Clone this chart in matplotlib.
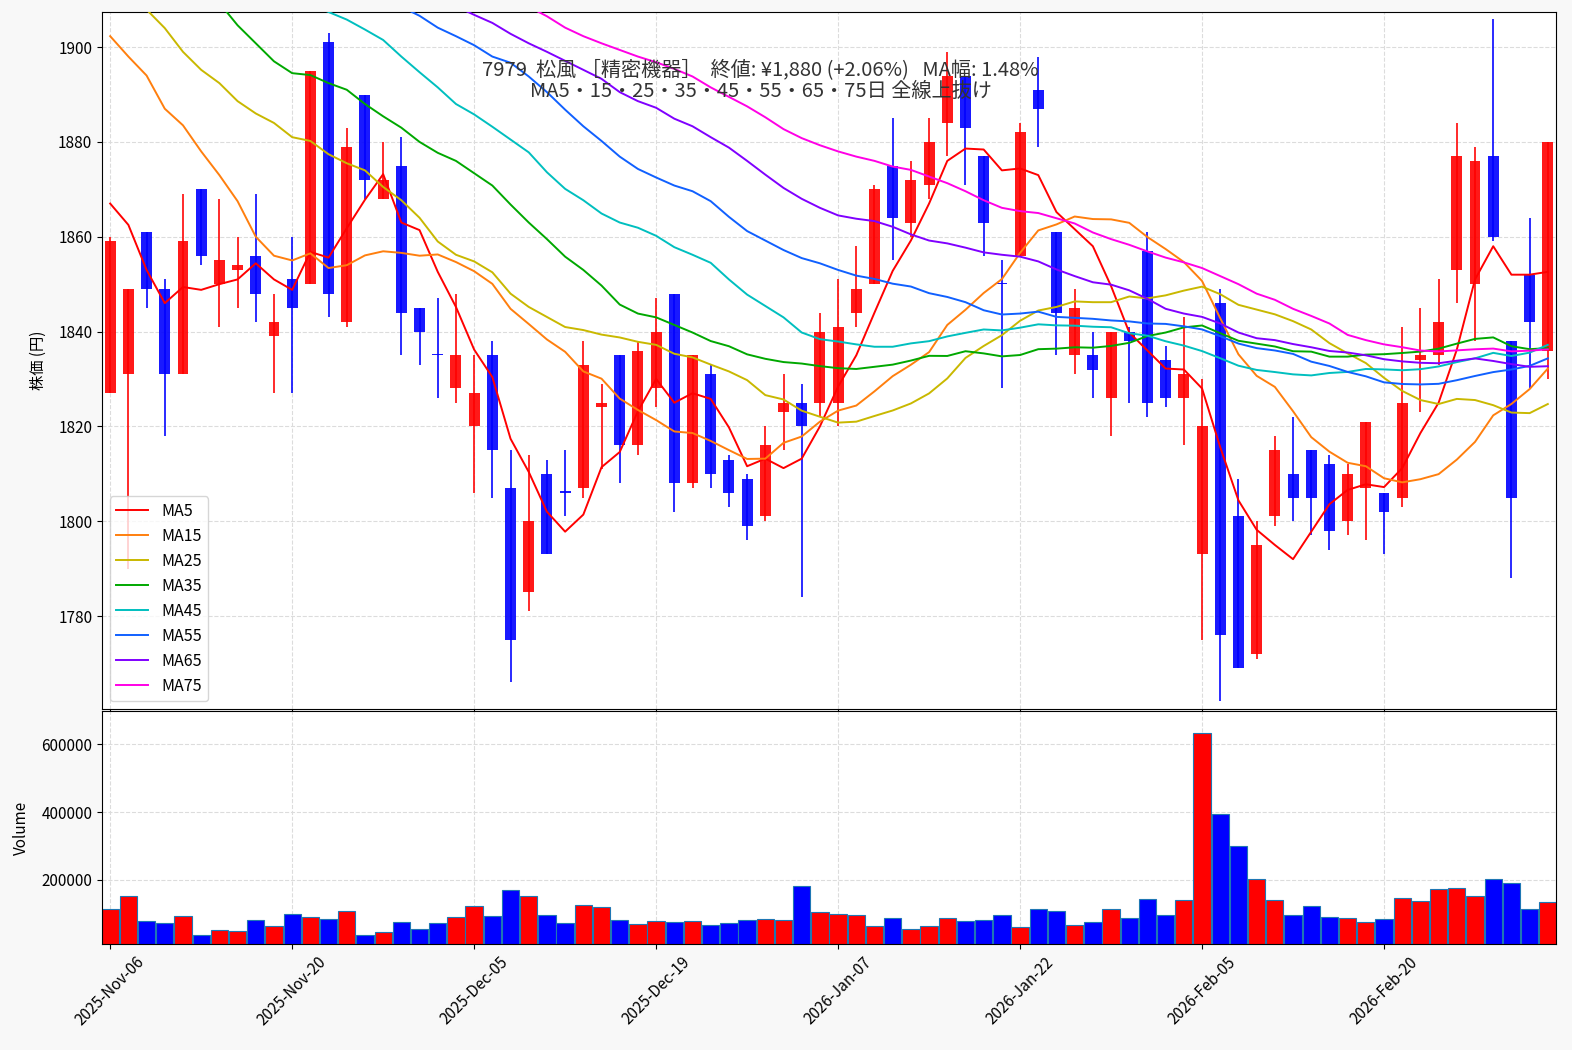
import numpy as np
import pandas as pd
import matplotlib
matplotlib.use("Agg")
import matplotlib.pyplot as plt
from matplotlib.ticker import MultipleLocator, FixedLocator

plt.rcParams['font.family'] = ['Noto Sans CJK JP', 'DejaVu Sans']

# daily prices (80 trading days)
opens = [1827, 1831, 1861, 1849, 1831, 1870, 1850, 1853, 1856, 1839,
         1851, 1850, 1901, 1842, 1890, 1868, 1875, 1845, 1835, 1828,
         1820, 1835, 1807, 1785, 1810, 1806, 1807, 1824, 1835, 1816,
         1828, 1848, 1808, 1831, 1813, 1809, 1801, 1823, 1825, 1825,
         1825, 1844, 1850, 1875, 1863, 1871, 1884, 1894, 1877, 1850,
         1856, 1891, 1861, 1835, 1835, 1826, 1840, 1857, 1834, 1826,
         1793, 1846, 1801, 1772, 1801, 1810, 1815, 1812, 1800, 1807,
         1806, 1805, 1834, 1835, 1853, 1850, 1877, 1838, 1852, 1836]
highs = [1860, 1849, 1861, 1851, 1869, 1870, 1868, 1860, 1869, 1848,
         1860, 1895, 1903, 1883, 1890, 1880, 1881, 1845, 1847, 1848,
         1835, 1838, 1815, 1814, 1813, 1815, 1838, 1829, 1835, 1838,
         1847, 1848, 1835, 1833, 1814, 1810, 1820, 1831, 1829, 1844,
         1851, 1858, 1871, 1885, 1876, 1885, 1899, 1894, 1877, 1855,
         1884, 1898, 1861, 1849, 1840, 1840, 1841, 1861, 1837, 1843,
         1830, 1849, 1809, 1800, 1818, 1822, 1815, 1814, 1812, 1821,
         1806, 1841, 1845, 1851, 1884, 1879, 1906, 1838, 1864, 1880]
lows = [1827, 1790, 1845, 1818, 1831, 1854, 1841, 1845, 1842, 1827,
        1827, 1850, 1843, 1841, 1868, 1868, 1835, 1833, 1826, 1825,
        1806, 1805, 1766, 1781, 1793, 1801, 1805, 1811, 1808, 1814,
        1824, 1802, 1807, 1807, 1803, 1796, 1800, 1815, 1784, 1822,
        1820, 1841, 1850, 1855, 1860, 1868, 1877, 1871, 1856, 1828,
        1856, 1879, 1835, 1831, 1826, 1818, 1825, 1822, 1824, 1816,
        1775, 1762, 1769, 1771, 1799, 1800, 1797, 1794, 1797, 1796,
        1793, 1803, 1823, 1833, 1846, 1838, 1859, 1788, 1828, 1830]
closes = [1859, 1849, 1849, 1831, 1859, 1856, 1855, 1854, 1848, 1842,
          1845, 1895, 1848, 1879, 1872, 1872, 1844, 1840, 1835, 1835,
          1827, 1815, 1775, 1800, 1793, 1806, 1833, 1825, 1816, 1836,
          1840, 1808, 1835, 1810, 1806, 1799, 1816, 1825, 1820, 1840,
          1841, 1849, 1870, 1864, 1872, 1880, 1894, 1883, 1863, 1850,
          1882, 1887, 1844, 1845, 1832, 1840, 1838, 1825, 1826, 1831,
          1820, 1776, 1769, 1795, 1815, 1805, 1805, 1798, 1810, 1821,
          1802, 1825, 1835, 1842, 1877, 1876, 1860, 1805, 1842, 1880]
volumes = [114300, 152700, 78800, 72900, 93600, 37400, 52200, 49300, 81800, 64000,
           99500, 90600, 84700, 108400, 37400, 46300, 75900, 55200, 72900, 90600,
           123200, 93600, 170400, 152700, 96500, 72900, 126100, 120200, 81800, 69900,
           78800, 75900, 78800, 67000, 72900, 81800, 84700, 81800, 182300, 106400,
           99500, 96500, 64000, 87700, 55200, 64000, 87700, 78800, 81800, 96500,
           61100, 114300, 108400, 67000, 75900, 114300, 87700, 143800, 96500, 140900,
           634500, 395100, 300500, 203000, 140900, 96500, 123200, 90600, 87700, 75900,
           84700, 146800, 137900, 173400, 176400, 152700, 203000, 191100, 114300, 135000]

# moving average values before a full window exists in the shown range
ma5_head = [1867, 1862.5, 1853, 1846]
ma15_head = [1902.3, 1898, 1894, 1887, 1883.5, 1878, 1873, 1867.5, 1860, 1856,
             1855, 1856.5, 1853.4, 1854]
ma25_head = [1914, 1911, 1907.9, 1904, 1899, 1895.2, 1892.4, 1888.6, 1886, 1884,
             1881, 1880.2, 1877.4, 1875.5, 1874, 1870.5, 1867.7, 1864, 1859, 1856.2,
             1854.8, 1852.5, 1848, 1845.2]
ma35_head = [1929, 1926, 1923, 1920, 1917, 1913, 1909.3, 1904.6, 1900.8, 1897,
             1894.5, 1894.1, 1892.4, 1891, 1888, 1885.4, 1883, 1880, 1877.7, 1876,
             1873.4, 1870.8, 1866.8, 1863, 1859.5, 1855.8, 1853, 1849.7, 1845.7, 1843.8,
             1843, 1841.4, 1839.8, 1838]
ma45_head = [1930, 1928, 1926, 1924, 1922, 1920, 1918, 1916, 1914, 1912,
             1910.5, 1909, 1907.4, 1905.8, 1903.7, 1901.5, 1898, 1894.7, 1891.5, 1888,
             1885.8, 1883.2, 1880.5, 1877.8, 1873.6, 1870.1, 1867.7, 1864.9, 1863, 1861.9,
             1860.2, 1857.8, 1856.2, 1854.5, 1851, 1847.8, 1845.4, 1843, 1839.8, 1838.4,
             1837.9, 1837.3, 1836.8, 1836.8]
ma55_head = [1940.5, 1938.5, 1936.5, 1934.5, 1932.5, 1930.5, 1928.5, 1926.5, 1924.5, 1922.5,
             1920.5, 1918.5, 1916.5, 1914.5, 1912.5, 1910.5, 1908.5, 1906.6,
             1904.1, 1902.3, 1900.4, 1898, 1896.7, 1893.8, 1890.5, 1886.8, 1883.3, 1880.2,
             1876.9, 1874.3, 1872.5, 1870.8, 1869.6, 1867.5, 1864.2, 1861.2, 1859.2, 1857.2,
             1855.5, 1854.4, 1853, 1851.8, 1851.1, 1850.1, 1849.5, 1848.1, 1847.3, 1846.2,
             1844.5, 1843.6, 1843.8, 1844.2, 1843.1, 1842.9]
ma65_head = [1942.8, 1941, 1939.2, 1937.4, 1935.6, 1933.8, 1932, 1930.2, 1928.4, 1926.6,
             1924.8, 1923, 1921.2, 1919.4, 1917.6, 1915.8, 1914, 1912.2, 1910.4, 1908.6,
             1906.8, 1905.1, 1902.8, 1900.8, 1899, 1897.1, 1895.2, 1893.3, 1890.5, 1888.6,
             1887.2, 1884.9, 1883.3, 1881, 1878.8, 1876, 1873.1, 1870.3, 1868, 1866.1,
             1864.5, 1863.8, 1863.3, 1862.1, 1860.5, 1859.2, 1858.6, 1857.7, 1856.7, 1856.2,
             1855.8, 1854.8, 1853.1, 1851.7, 1850.4, 1849.9, 1848.7, 1846.9, 1844.8, 1843.8,
             1843.1, 1841.7, 1839.8, 1838.6]
ma75_head = [1947.7, 1946, 1944.3, 1942.6, 1940.9, 1939.2, 1937.5, 1935.8, 1934.1, 1932.4,
             1930.7, 1929, 1927.3, 1925.6, 1923.9, 1922.2, 1920.5, 1918.8, 1917.1, 1915.4,
             1913.7, 1912, 1910.3, 1908.5,
             1906.5, 1904.1, 1902.3, 1900.8, 1899.4, 1898, 1896.8, 1895.4, 1893.8, 1891.5,
             1889.5, 1887.5, 1885.2, 1882.7, 1880.8, 1879.3, 1878, 1876.9, 1876, 1874.8,
             1874.1, 1872.7, 1871.3, 1869.6, 1867.7, 1866.1, 1865.4, 1865, 1863.9, 1862.8,
             1860.9, 1859.5, 1858.3, 1856.9, 1855.6, 1854.6, 1853.4, 1851.7, 1850, 1848,
             1846.7, 1844.8, 1843.3, 1841.7, 1839.3, 1838.2, 1837.3, 1836.7, 1836, 1835.8]

ma_periods = [5, 15, 25, 35, 45, 55, 65, 75]
ma_heads = [ma5_head, ma15_head, ma25_head, ma35_head, ma45_head, ma55_head, ma65_head, ma75_head]
ma_colors = ['#ff0000', '#ff7f0e', '#c9b800', '#00a800', '#00bfbf', '#1060ff', '#8000ff', '#ff00e6']

tick_pos = [0, 10, 20, 30, 40, 50, 60, 70]
tick_labels = ['2025-Nov-06', '2025-Nov-20', '2025-Dec-05', '2025-Dec-19',
               '2026-Jan-07', '2026-Jan-22', '2026-Feb-05', '2026-Feb-20']

title = ('7979  松風 ［精密機器］  終値: ¥1,880 (+2.06%)   MA幅: 1.48%\n'
         'MA5・15・25・35・45・55・65・75日 全線上抜け')

o = np.array(opens, dtype=float)
h = np.array(highs, dtype=float)
l = np.array(lows, dtype=float)
c = np.array(closes, dtype=float)
v = np.array(volumes, dtype=float)
x = np.arange(len(c))
close_s = pd.Series(c)

cols = np.where(c > o, '#ff0000', '#0000ff')

fig = plt.figure(figsize=(15.72, 10.5), dpi=100, facecolor='#f8f8f8')
ax = fig.add_axes([102 / 1572, 1 - 709 / 1050, 1454 / 1572, 697 / 1050])
axv = fig.add_axes([102 / 1572, 1 - 944 / 1050, 1454 / 1572, 233 / 1050], sharex=ax)

# candles
ax.vlines(x, l, h, colors=cols, linewidth=1.3, alpha=0.9, zorder=3)
body = np.maximum(np.abs(c - o), 0.3)
ax.bar(x, body, bottom=np.minimum(o, c), width=0.6, color=cols, alpha=0.9,
       linewidth=0, zorder=4)

# moving averages
for n, head, col in zip(ma_periods, ma_heads, ma_colors):
    ma = close_s.rolling(n).mean().to_numpy()
    ma[:n - 1] = head
    ax.plot(x, ma, color=col, linewidth=1.4, label=f'MA{n}', zorder=5)

ax.set_xlim(-0.45, 79.45)
ax.set_ylim(1760.4, 1907.4)
ax.yaxis.set_major_locator(MultipleLocator(20))
ax.grid(True, linestyle='--', color='#dcdcdc', linewidth=0.8)
ax.set_axisbelow(True)
ax.set_ylabel('株価 (円)', fontsize=11, labelpad=8)
ax.tick_params(labelbottom=False, labelsize=11)
ax.legend(loc='lower left', fontsize=11.5, framealpha=0.8)
ax.text(0.453, 0.932, title, transform=ax.transAxes, ha='center', va='top',
        fontsize=14.5, linespacing=1.05, color='#333333', zorder=6)

# volume
axv.bar(x, v, width=0.95, color=cols, edgecolor='#1f77b4', linewidth=0.8)
axv.set_ylim(10800, 698500)
axv.yaxis.set_major_locator(FixedLocator([200000, 400000, 600000]))
axv.ticklabel_format(axis='y', style='plain')
axv.grid(True, linestyle='--', color='#dcdcdc', linewidth=0.8)
axv.set_axisbelow(True)
axv.set_ylabel('Volume', fontsize=11, labelpad=8)
axv.set_xticks(tick_pos)
axv.set_xticklabels(tick_labels, rotation=45)
axv.tick_params(labelsize=11)

fig.savefig('out.png', dpi=100, facecolor=fig.get_facecolor())
